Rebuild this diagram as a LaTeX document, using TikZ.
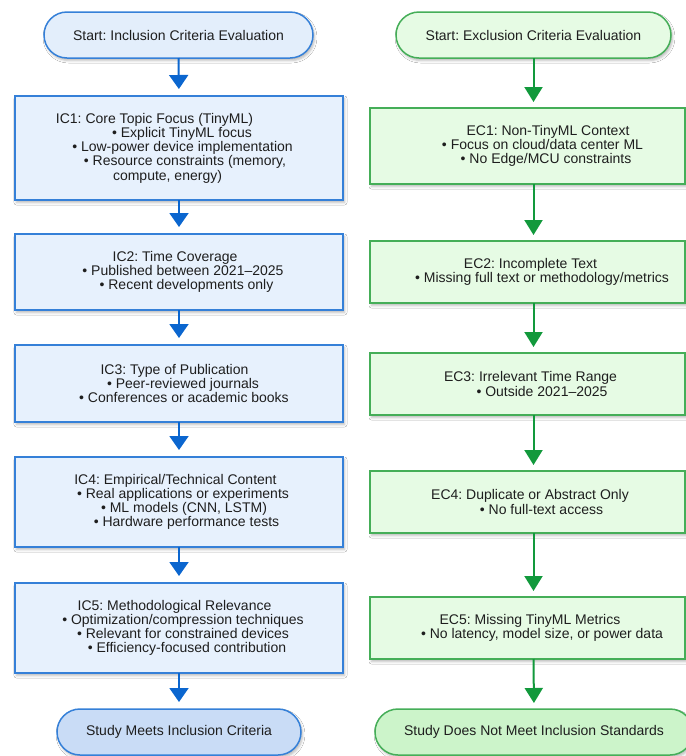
\documentclass[tikz,border=0pt]{standalone}
\usepackage{fontspec}
\setmainfont{Liberation Sans}
\usetikzlibrary{arrows.meta,shadows.blur}
\frenchspacing

\definecolor{blueline}{HTML}{3580D8}
\definecolor{bluefill}{HTML}{E7F1FD}
\definecolor{bluestart}{HTML}{E3EEFB}
\definecolor{blueend}{HTML}{C9DCF6}
\definecolor{bluearrow}{HTML}{0B66CF}
\definecolor{greenline}{HTML}{45AE58}
\definecolor{greenfill}{HTML}{E6FBE4}
\definecolor{greenend}{HTML}{CCF4CA}
\definecolor{greenarrow}{HTML}{12993C}
\definecolor{txt}{HTML}{1E1E1E}

% one text line, its centre moved sideways by half of #1
\newcommand\shln[2]{\makebox[0pt]{\hspace*{#1}#2}}

\tikzset{
  base/.style={font=\fontsize{14}{14.2}\selectfont, text=txt, align=center,
    inner sep=0pt, outer sep=0pt, line width=1.5pt,
    blur shadow={shadow xshift=1.5pt, shadow yshift=-2.5pt,
      shadow blur radius=2.5pt, shadow opacity=28}},
  incbox/.style={base, draw=blueline, fill=bluefill, minimum width=328},
  excbox/.style={base, draw=greenline, fill=greenfill, minimum width=315},
  term/.style={base, rounded corners=23, minimum height=46},
  bluearr/.style={draw=bluearrow, line width=2pt,
    -{Triangle[width=19pt,length=14pt]}, shorten >=7pt},
  greenarr/.style={draw=greenarrow, line width=2pt,
    -{Triangle[width=18pt,length=15pt]}, shorten >=6pt},
}

\begin{document}
\begin{tikzpicture}[x=1pt,y=-1pt]
\fill[white] (0,0) rectangle (686,756);
\useasboundingbox (0,0) rectangle (686,756);

% inclusion column
\node[term, draw=blueline, fill=bluestart, minimum width=269] (startL) at (178.5,35)
  {Start: Inclusion Criteria Evaluation};
\node[incbox, minimum height=104] (IC1) at (179,148)
  {\shln{-49pt}{IC1: Core Topic Focus (TinyML)}\\
   \shln{6pt}{• Explicit TinyML focus}\\
   \shln{7pt}{• Low-power device implementation}\\
   \shln{12pt}{• Resource constraints (memory,}\\
   \shln{-23pt}{compute, energy)}};
\node[incbox, minimum height=76] (IC2) at (179,272)
  {\shln{-8pt}{IC2: Time Coverage}\\
   \shln{8pt}{• Published between 2021–2025}\\
   \shln{15pt}{• Recent developments only}};
\node[incbox, minimum height=77] (IC3) at (179,383.5)
  {\shln{-9pt}{IC3: Type of Publication}\\
   \shln{8pt}{• Peer-reviewed journals}\\
   \shln{10pt}{• Conferences or academic books}};
\node[incbox, minimum height=90] (IC4) at (179,502)
  {\shln{-7pt}{IC4: Empirical/Technical Content}\\
   \shln{8pt}{• Real applications or experiments}\\
   \shln{10pt}{• ML models (CNN, LSTM)}\\
   \shln{15pt}{• Hardware performance tests}};
\node[incbox, minimum height=90] (IC5) at (179,628)
  {\shln{-9pt}{IC5: Methodological Relevance}\\
   \shln{8pt}{• Optimization/compression techniques}\\
   \shln{8pt}{• Relevant for constrained devices}\\
   \shln{16pt}{• Efficiency-focused contribution}};
\node[term, draw=blueline, fill=blueend, minimum width=244] (endL) at (179,732)
  {Study Meets Inclusion Criteria};

% exclusion column
\node[term, draw=greenline, fill=greenfill, minimum width=275] (startR) at (533.5,35)
  {Start: Exclusion Criteria Evaluation};
\node[excbox, minimum height=76] (EC1) at (527.5,146)
  {\shln{41pt}{EC1: Non-TinyML Context}\\
   \shln{30pt}{• Focus on cloud/data center ML}\\
   \shln{37pt}{• No Edge/MCU constraints}};
\node[excbox, minimum height=62] (EC2) at (527.5,272)
  {\shln{6pt}{EC2: Incomplete Text}\\
   \shln{29pt}{• Missing full text or methodology/metrics}};
\node[excbox, minimum height=62] (EC3) at (527.5,384)
  {\shln{6pt}{EC3: Irrelevant Time Range}\\
   \shln{29pt}{• Outside 2021–2025}};
\node[excbox, minimum height=62] (EC4) at (527.5,502)
  {\shln{5pt}{EC4: Duplicate or Abstract Only}\\
   \shln{28pt}{• No full-text access}};
\node[excbox, minimum height=62] (EC5) at (527.5,628)
  {\shln{5pt}{EC5: Missing TinyML Metrics}\\
   \shln{29pt}{• No latency, model size, or power data}};
\node[term, draw=greenline, fill=greenend, minimum width=318] (endR) at (534,732)
  {Study Does Not Meet Inclusion Standards};

% inclusion arrows
\draw[bluearr] (startL.south) -- (IC1.north);
\draw[bluearr] (IC1.south) -- (IC2.north);
\draw[bluearr] (IC2.south) -- (IC3.north);
\draw[bluearr] (IC3.south) -- (IC4.north);
\draw[bluearr] (IC4.south) -- (IC5.north);
\draw[bluearr] (IC5.south) -- (endL.north);

% exclusion arrows, on the axis of the start node
\draw[greenarr] (startR.south) -- (startR.south |- EC1.north);
\draw[greenarr] (EC1.south -| startR.south) -- (EC2.north -| startR.south);
\draw[greenarr] (EC2.south -| startR.south) -- (EC3.north -| startR.south);
\draw[greenarr] (EC3.south -| startR.south) -- (EC4.north -| startR.south);
\draw[greenarr] (EC4.south -| startR.south) -- (EC5.north -| startR.south);
\draw[greenarr] (EC5.south -| startR.south) -- (endR.north);
\end{tikzpicture}
\end{document}
